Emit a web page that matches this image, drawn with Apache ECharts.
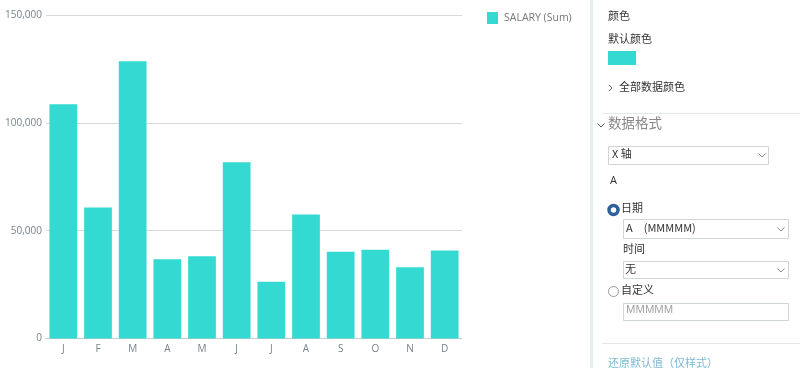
<!DOCTYPE html>
<html>
<head>
<meta charset="utf-8">
<style>html,body{margin:0;padding:0;background:#fff;}#c{width:800px;height:368px;}</style>
<script src="https://cdn.jsdelivr.net/npm/echarts@6/dist/echarts.min.js"></script>
</head>
<body>
<div id="c"></div>
<script>
var categories = ['J','F','M','A','M','J','J','A','S','O','N','D'];
var salarySum = [108600, 60700, 128500, 36700, 38100, 81700, 26300, 57500, 40200, 41100, 33000, 40800];
var seriesName = 'SALARY (Sum)';
var yTicks = [0, 50000, 100000, 150000];

var BAR = '#34D9D2';
var LAT = '"Open Sans", "Noto Sans", sans-serif';
var CJK = '"Noto Sans CJK SC", "Open Sans", sans-serif';

function txt(x, y, s, size, color, font, extra) {
  var o = {type:'text', left:x, top:y, style:{text:s, fill:color, font: size + 'px ' + font}};
  if (extra) for (var k in extra) o.style[k] = extra[k];
  return o;
}
function box(x, y, w, h) {
  return {type:'rect', shape:{x:x+0.5, y:y+0.5, width:w, height:h}, style:{fill:'#fff', stroke:'#cfd4d6', lineWidth:1}};
}
function chevDown(cx, cy, c) {
  return {type:'polyline', shape:{points:[[cx-3.5, cy-1.5],[cx, cy+2],[cx+3.5, cy-1.5]]}, style:{stroke:c||'#888', lineWidth:1, fill:null}};
}

var g = [];
// panel border
g.push({type:'rect', shape:{x:590, y:0, width:3, height:368}, style:{fill:'#e4eef1'}});
g.push(txt(608, 10, '颜色', 11, '#333', CJK));
g.push(txt(608, 33, '默认颜色', 11, '#333', CJK));
g.push({type:'rect', shape:{x:608, y:51, width:28, height:14}, style:{fill:BAR}});
g.push({type:'polyline', shape:{points:[[609,85],[612,88],[609,91]]}, style:{stroke:'#666', lineWidth:1, fill:null}});
g.push(txt(619, 81, '全部数据颜色', 11, '#333', CJK));
g.push({type:'rect', shape:{x:603, y:113, width:197, height:1}, style:{fill:'#e3e8ea'}});
g.push(chevDown(601, 125, '#555'));
g.push(txt(608, 116, '数据格式', 13.5, '#888', CJK));
g.push(box(608, 146, 160, 18));
g.push(txt(612, 148, 'X 轴', 11, '#333', CJK));
g.push(chevDown(762, 155));
g.push(txt(610, 175, 'A', 11, '#333', LAT));
g.push({type:'circle', shape:{cx:613.5, cy:210, r:4.5}, style:{fill:'#fff', stroke:'#2e5f9a', lineWidth:3.5}});
g.push(txt(621, 202, '日期', 11, '#333', CJK));
g.push(box(623, 219, 165, 19));
g.push(txt(626, 222, 'A\u3000(MMMMM)', 11, '#333', CJK));
g.push(chevDown(781, 229));
g.push(txt(623, 243, '时间', 11, '#333', CJK));
g.push(box(623, 261, 165, 17));
g.push(txt(625, 263, '无', 11, '#333', CJK));
g.push(chevDown(781, 270));
g.push({type:'circle', shape:{cx:613.5, cy:291.5, r:5}, style:{fill:'#fff', stroke:'#999', lineWidth:1}});
g.push(txt(621, 284, '自定义', 11, '#333', CJK));
g.push(box(623, 303, 165, 17));
g.push(txt(626, 305, 'MMMMM', 10.5, '#999', LAT));
g.push({type:'rect', shape:{x:602, y:343, width:198, height:1}, style:{fill:'#e3e8ea'}});
g.push(txt(608, 357, '还原默认值（仅样式）', 11, '#7fb9d3', CJK));

var chart = echarts.init(document.getElementById('c'), null, {renderer:'canvas'});
chart.setOption({
  animation: false,
  backgroundColor: '#fff',
  grid: {left: 46, right: 338, top: 15, bottom: 29.5},
  legend: {
    left: 482, top: 7, itemWidth: 11, itemHeight: 12, itemGap: 10,
    icon: 'rect',
    textStyle: {color: '#777', fontSize: 10.5, fontFamily: LAT, padding:[0,0,0,1]},
    data: [seriesName]
  },
  xAxis: {
    type: 'category',
    data: categories,
    axisLine: {lineStyle: {color: '#c8cdcf'}},
    axisTick: {show: false},
    axisLabel: {color: '#77838a', fontSize: 10, fontFamily: LAT, margin: 6}
  },
  yAxis: {
    type: 'value',
    min: yTicks[0], max: yTicks[yTicks.length-1], interval: yTicks[1]-yTicks[0],
    axisLine: {show: false},
    axisTick: {show: false},
    splitLine: {lineStyle: {color: '#d6dadb'}},
    axisLabel: {color: '#77838a', fontSize: 10, fontFamily: LAT, margin: 4,
      formatter: function(v){ return v.toLocaleString('en-US'); }}
  },
  series: [{
    name: seriesName,
    type: 'bar',
    data: salarySum,
    barCategoryGap: '20%',
    itemStyle: {color: BAR}
  }],
  graphic: g
});
</script>
</body>
</html>
